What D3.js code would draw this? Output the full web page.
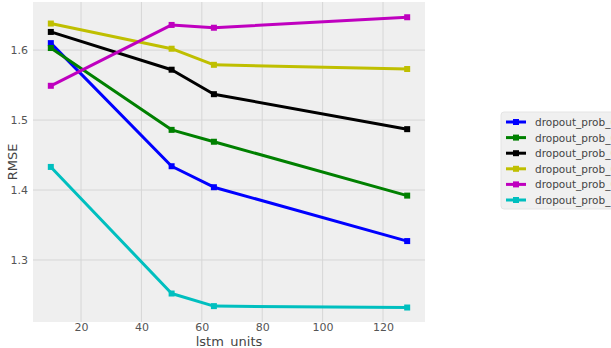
<!DOCTYPE html>
<html>
<head>
<meta charset="utf-8">
<script src="https://cdn.jsdelivr.net/npm/d3@7"></script>
<style>
  body { margin: 0; background: #fff; }
  svg { display: block; font-family: "DejaVu Sans", sans-serif; }
</style>
</head>
<body>
<div id="chart"></div>
<script>
// lstm units on the x axis
const units = [10, 50, 64, 128];
const seriesNames = ["dropout_prob_0.0", "dropout_prob_0.2", "dropout_prob_0.4", "dropout_prob_0.6", "dropout_prob_0.8", "dropout_prob_1.0"];
const blueVals = [1.610, 1.434, 1.404, 1.327];
const greenVals = [1.603, 1.486, 1.469, 1.392];
const blackVals = [1.626, 1.572, 1.537, 1.487];
const yellowVals = [1.638, 1.602, 1.579, 1.573];
const magentaVals = [1.549, 1.636, 1.632, 1.647];
const cyanVals = [1.433, 1.252, 1.234, 1.232];
const xTicks = [20, 40, 60, 80, 100, 120];
const yTicks = [1.3, 1.4, 1.5, 1.6];

const colors = ["#0000ff", "#008000", "#000000", "#bfbf00", "#bf00bf", "#00bfbf"];
const series = [blueVals, greenVals, blackVals, yellowVals, magentaVals, cyanVals].map((vals, i) => ({
  name: seriesNames[i],
  color: colors[i],
  points: vals.map((v, j) => ({ x: units[j], y: v }))
}));

const width = 611, height = 348;
const plotLeft = 33, plotRight = 425, plotTop = 2, plotBottom = 322;

const svg = d3.select('#chart').append('svg')
  .attr('width', width)
  .attr('height', height);

const xScale = d3.scaleLinear().domain([4.1, 133.9]).range([plotLeft, plotRight]);
const yScale = d3.scaleLinear().domain([1.2113, 1.6688]).range([plotBottom, plotTop]);

// plot background
svg.append('rect')
  .attr('x', plotLeft).attr('y', plotTop)
  .attr('width', plotRight - plotLeft).attr('height', plotBottom - plotTop)
  .attr('fill', '#efefef');

// grid lines
svg.append('g').selectAll('line').data(xTicks).enter().append('line')
  .attr('x1', d => xScale(d)).attr('x2', d => xScale(d))
  .attr('y1', plotTop).attr('y2', plotBottom)
  .attr('stroke', '#d6d6d6').attr('stroke-width', 1);
svg.append('g').selectAll('line').data(yTicks).enter().append('line')
  .attr('y1', d => yScale(d)).attr('y2', d => yScale(d))
  .attr('x1', plotLeft).attr('x2', plotRight)
  .attr('stroke', '#d6d6d6').attr('stroke-width', 1);

// axes (labels only, no domain/ticks marks)
const xAxis = svg.append('g')
  .attr('transform', `translate(0, ${plotBottom})`)
  .call(d3.axisBottom(xScale).tickValues(xTicks).tickSize(0).tickPadding(1).tickFormat(d3.format('d')));
const yAxis = svg.append('g')
  .attr('transform', `translate(${plotLeft}, 0)`)
  .call(d3.axisLeft(yScale).tickValues(yTicks).tickSize(0).tickPadding(5).tickFormat(d3.format('.1f')));
[xAxis, yAxis].forEach(ax => {
  ax.select('.domain').remove();
  ax.selectAll('text').attr('fill', '#555').style('font-size', '11px').style('font-family', '"DejaVu Sans", sans-serif');
});

// axis titles
svg.append('text')
  .attr('x', (plotLeft + plotRight) / 2).attr('y', 346)
  .attr('text-anchor', 'middle')
  .attr('fill', '#444')
  .style('font-size', '13px')
  .text('lstm_units');
svg.append('text')
  .attr('transform', `translate(17, ${(plotTop + plotBottom) / 2}) rotate(-90)`)
  .attr('text-anchor', 'middle')
  .attr('fill', '#444')
  .style('font-size', '13px')
  .text('RMSE');

// lines and markers
const line = d3.line().x(d => xScale(d.x)).y(d => yScale(d.y));
series.forEach(s => {
  svg.append('path')
    .datum(s.points)
    .attr('d', line)
    .attr('fill', 'none')
    .attr('stroke', s.color)
    .attr('stroke-width', 3)
    .attr('stroke-linejoin', 'round');
  svg.append('g').selectAll('rect').data(s.points).enter().append('rect')
    .attr('x', d => xScale(d.x) - 3).attr('y', d => yScale(d.y) - 3)
    .attr('width', 6).attr('height', 6)
    .attr('fill', s.color);
});

// legend (runs past the right edge, as in the original)
const lg = svg.append('g').attr('transform', 'translate(501, 112)');
lg.append('rect')
  .attr('width', 130).attr('height', 97).attr('rx', 3)
  .attr('fill', '#f0f0f0').attr('stroke', '#e4e4e4');
series.forEach((s, i) => {
  const y = 10 + i * 15.6;
  lg.append('line')
    .attr('x1', 5).attr('x2', 25).attr('y1', y).attr('y2', y)
    .attr('stroke', s.color).attr('stroke-width', 3);
  lg.append('rect')
    .attr('x', 12).attr('y', y - 3).attr('width', 6).attr('height', 6)
    .attr('fill', s.color);
  lg.append('text')
    .attr('x', 34).attr('y', y + 4)
    .attr('fill', '#444')
    .style('font-size', '10.5px')
    .text(s.name);
});
</script>
</body>
</html>
